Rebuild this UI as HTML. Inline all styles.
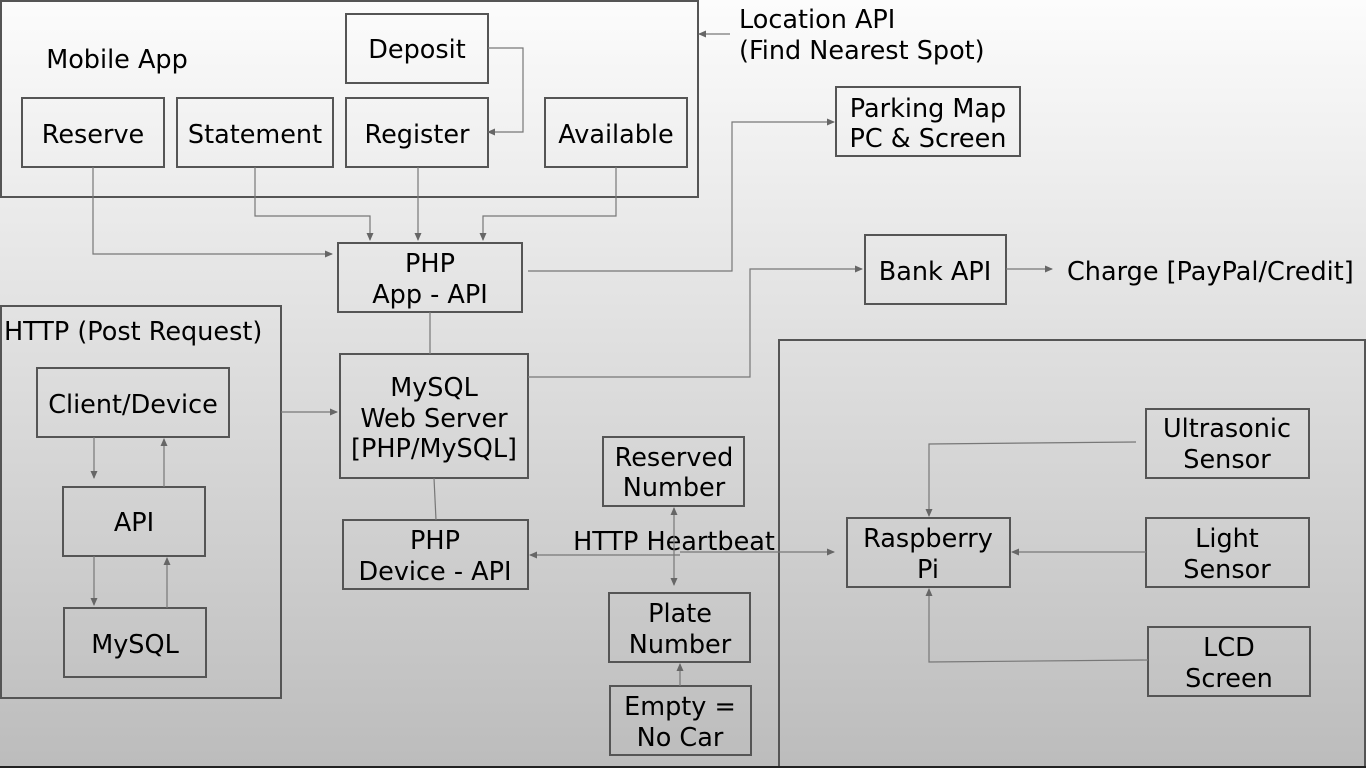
<!DOCTYPE html>
<html><head><style>
html,body{margin:0;padding:0;}
body{width:1366px;height:768px;overflow:hidden;background:linear-gradient(#fcfcfc,#bcbcbc);}
svg{display:block}
text{font-family:"DejaVu Sans","Liberation Sans",sans-serif;font-size:25.5px;fill:#000;text-anchor:middle}
.b{fill:none;stroke:#555;stroke-width:2}
.l{fill:none;stroke:#777;stroke-width:1.2}
</style></head><body>
<svg width="1366" height="768" viewBox="0 0 1366 768">
<defs><marker id="a" markerWidth="8" markerHeight="8" refX="7" refY="4" orient="auto" markerUnits="userSpaceOnUse"><path d="M0,0.5 L8,4 L0,7.5z" fill="#666"/></marker></defs>
<rect class="b" x="1" y="1" width="697" height="196"/>
<rect class="b" x="1" y="306" width="280" height="392"/>
<rect class="b" x="779" y="340" width="586" height="427"/>
<line x1="0" y1="767" x2="1366" y2="767" stroke="#222" stroke-width="2"/>
<rect class="b" x="346" y="14" width="142" height="69"/>
<rect class="b" x="22" y="98" width="142" height="69"/>
<rect class="b" x="177" y="98" width="156" height="69"/>
<rect class="b" x="346" y="98" width="142" height="69"/>
<rect class="b" x="545" y="98" width="142" height="69"/>
<rect class="b" x="836" y="87" width="184" height="69"/>
<rect class="b" x="338" y="243" width="184" height="69"/>
<rect class="b" x="865" y="235" width="141" height="69"/>
<rect class="b" x="37" y="368" width="192" height="69"/>
<rect class="b" x="340" y="354" width="188" height="124"/>
<rect class="b" x="63" y="487" width="142" height="69"/>
<rect class="b" x="64" y="608" width="142" height="69"/>
<rect class="b" x="603" y="437" width="141" height="69"/>
<rect class="b" x="343" y="520" width="185" height="69"/>
<rect class="b" x="609" y="593" width="141" height="69"/>
<rect class="b" x="610" y="686" width="141" height="69"/>
<rect class="b" x="847" y="518" width="163" height="69"/>
<rect class="b" x="1146" y="409" width="163" height="69"/>
<rect class="b" x="1146" y="518" width="163" height="69"/>
<rect class="b" x="1148" y="627" width="162" height="69"/>

<text x="117" y="68">Mobile App</text>
<text x="417" y="58">Deposit</text>
<text x="93" y="143">Reserve</text>
<text x="255" y="143">Statement</text>
<text x="417" y="143">Register</text>
<text x="616" y="143">Available</text>
<text x="739" y="28" style="text-anchor:start">Location API</text>
<text x="739" y="59" style="text-anchor:start">(Find Nearest Spot)</text>
<text x="928" y="117">Parking Map</text>
<text x="928" y="147">PC &amp; Screen</text>
<text x="430" y="272">PHP</text>
<text x="430" y="303">App - API</text>
<text x="935" y="280">Bank API</text>
<text x="1067" y="280" style="text-anchor:start">Charge [PayPal/Credit]</text>
<text x="4" y="340" style="text-anchor:start">HTTP (Post Request)</text>
<text x="133" y="413">Client/Device</text>
<text x="434" y="396">MySQL</text>
<text x="434" y="427">Web Server</text>
<text x="434" y="457">[PHP/MySQL]</text>
<text x="134" y="531">API</text>
<text x="135" y="653">MySQL</text>
<text x="674" y="466">Reserved</text>
<text x="674" y="496">Number</text>
<text x="435" y="549">PHP</text>
<text x="435" y="580">Device - API</text>
<text x="674" y="550">HTTP Heartbeat</text>
<text x="680" y="622">Plate</text>
<text x="680" y="653">Number</text>
<text x="680" y="715">Empty =</text>
<text x="680" y="746">No Car</text>
<text x="928" y="547">Raspberry</text>
<text x="928" y="578">Pi</text>
<text x="1227" y="437">Ultrasonic</text>
<text x="1227" y="468">Sensor</text>
<text x="1227" y="547">Light</text>
<text x="1227" y="578">Sensor</text>
<text x="1229" y="656">LCD</text>
<text x="1229" y="687">Screen</text>

<path class="l" d="M488,48 H523 V132 H488" marker-end="url(#a)"/>
<path class="l" d="M730,34 H699" marker-end="url(#a)"/>
<path class="l" d="M93,167 V254 H332" marker-end="url(#a)"/>
<path class="l" d="M255,167 V216 H370 V240" marker-end="url(#a)"/>
<path class="l" d="M418,167 V240" marker-end="url(#a)"/>
<path class="l" d="M616,167 V216 H483 V240" marker-end="url(#a)"/>
<path class="l" d="M528,271 H732 V122 H834" marker-end="url(#a)"/>
<path class="l" d="M430,312 V354"/>
<path class="l" d="M528,377 H750 V269 H862" marker-end="url(#a)"/>
<path class="l" d="M1006,269 H1052" marker-end="url(#a)"/>
<path class="l" d="M281,412 H337" marker-end="url(#a)"/>
<path class="l" d="M94,437 V478" marker-end="url(#a)"/>
<path class="l" d="M164,487 V439" marker-end="url(#a)"/>
<path class="l" d="M94,556 V605" marker-end="url(#a)"/>
<path class="l" d="M167,608 V558" marker-end="url(#a)"/>
<path class="l" d="M434,478 L436,520"/>
<path class="l" d="M680,555 L530,555" marker-end="url(#a)"/>
<path class="l" d="M680,552 L834,552" marker-end="url(#a)"/>
<path class="l" d="M674,540 V508" marker-end="url(#a)"/>
<path class="l" d="M674,540 V585" marker-end="url(#a)"/>
<path class="l" d="M680,686 V664" marker-end="url(#a)"/>
<path class="l" d="M1136,442 L929,444 V516" marker-end="url(#a)"/>
<path class="l" d="M1146,552 H1012" marker-end="url(#a)"/>
<path class="l" d="M1148,660 L929,662 V589" marker-end="url(#a)"/>
</svg>
</body></html>
